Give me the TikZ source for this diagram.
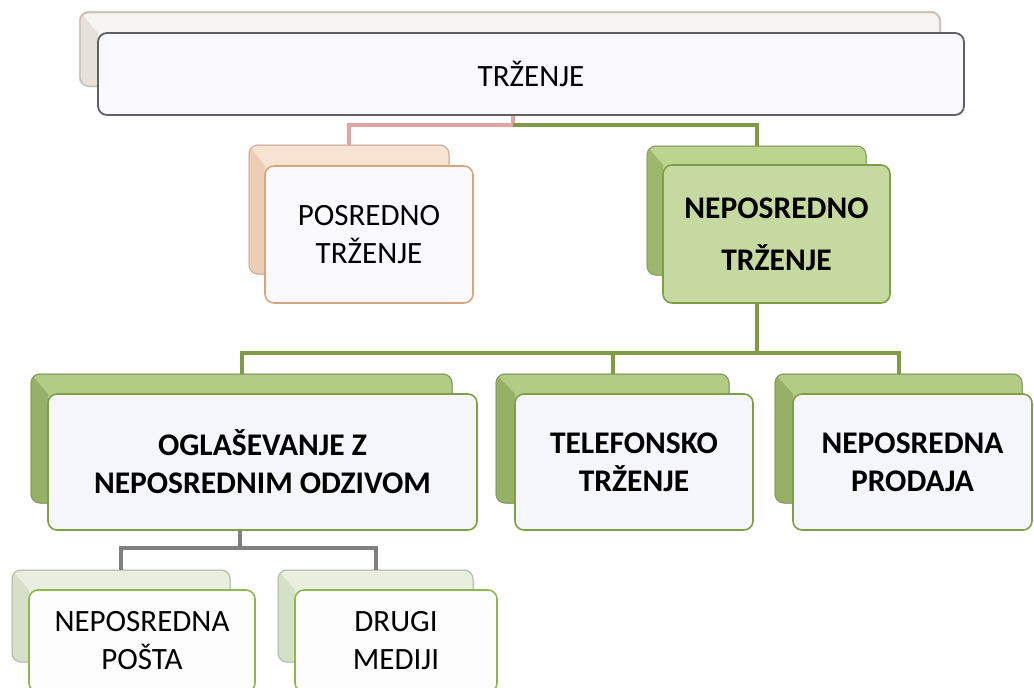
\documentclass[tikz,border=0pt]{standalone}
\usepackage{fontspec}
\setmainfont{Carlito}
\definecolor{trzBackFill}{HTML}{F7F5F2}
\definecolor{trzBackDark}{HTML}{E8E1DA}
\definecolor{trzBackLine}{HTML}{DDD3C9}
\definecolor{trzFrontFill}{HTML}{F8F8FD}
\definecolor{trzFrontLine}{HTML}{5F5F66}
\definecolor{posBackFill}{HTML}{F8E2D2}
\definecolor{posBackDark}{HTML}{EDCDB6}
\definecolor{posBackLine}{HTML}{EBCDB6}
\definecolor{posFrontFill}{HTML}{FAFAFE}
\definecolor{posFrontLine}{HTML}{D8A57A}
\definecolor{redConn}{HTML}{E4A4A2}
\definecolor{greenConn}{HTML}{7F9C45}
\definecolor{grayConn}{HTML}{7F7F80}
\definecolor{nepBackFill}{HTML}{BCD58E}
\definecolor{nepBackDark}{HTML}{9DB86C}
\definecolor{nepBackLine}{HTML}{A9C47A}
\definecolor{nepFrontFill}{HTML}{C5D9A0}
\definecolor{nepFrontLine}{HTML}{7E9D46}
\definecolor{lvBackFill}{HTML}{B2CC86}
\definecolor{lvBackDark}{HTML}{97B068}
\definecolor{lvBackLine}{HTML}{9DB86C}
\definecolor{lvFrontFill}{HTML}{F5F6FC}
\definecolor{lvFrontLine}{HTML}{7F9F44}
\definecolor{lwBackFill}{HTML}{E9EFDF}
\definecolor{lwBackDark}{HTML}{D6DFC8}
\definecolor{lwBackLine}{HTML}{D3DCC4}
\definecolor{lwFrontFill}{HTML}{FDFDFE}
\definecolor{lwFrontLine}{HTML}{8DB84B}
\tikzset{
  boxbase/.style={rounded corners=9pt, inner sep=0pt, outer sep=0pt, align=center},
  backbox/.style={boxbase, line width=1pt},
  frontbox/.style={boxbase, line width=1.6pt},
  plaintext/.style={font=\fontsize{31}{38}\selectfont},
  boldtext/.style={font=\fontsize{31.5}{38}\selectfont\bfseries},
  conn/.style={line width=4pt},
}
\newcommand\mybevel[3]{%
  \begin{scope}
    \clip[rounded corners=9pt] (#1.north west) rectangle (#1.south east);
    \fill[#3] (#1.north west) -- (#2.north west) -- (#2.north west |- #1.south) -- (#1.south west) -- cycle;
  \end{scope}
  \draw[backbox, draw=#3!80!black!90] (#1.north west) rectangle (#1.south east);
}
\begin{document}
\begin{tikzpicture}[x=1pt,y=-1pt]
\useasboundingbox (0,0) rectangle (1034,688);
\clip (0,0) rectangle (1034,688);
\fill[white] (0,0) rectangle (1034,688);

% back boxes
\node[backbox, fill=trzBackFill, draw=trzBackLine, line width=2.5pt, minimum width=860pt, minimum height=74pt] (trzb) at (510,49) {};
\node[backbox, fill=posBackFill, draw=posBackLine, minimum width=200pt, minimum height=129pt] (posb) at (349,209.5) {};
\node[backbox, fill=nepBackFill, draw=nepBackLine, minimum width=219pt, minimum height=129pt] (nepb) at (756.5,210.5) {};
\node[backbox, fill=lvBackFill, draw=lvBackLine, minimum width=421pt, minimum height=129pt] (oglb) at (241.5,438.5) {};
\node[backbox, fill=lvBackFill, draw=lvBackLine, minimum width=233pt, minimum height=129pt] (telb) at (612.5,438.5) {};
\node[backbox, fill=lvBackFill, draw=lvBackLine, minimum width=247pt, minimum height=129pt] (prob) at (898.5,438.5) {};
\node[backbox, fill=lwBackFill, draw=lwBackLine, minimum width=218pt, minimum height=92pt] (npb) at (121,616) {};
\node[backbox, fill=lwBackFill, draw=lwBackLine, minimum width=195pt, minimum height=92pt] (drb) at (375.5,616) {};

% junction coordinates
\coordinate (j0) at (513,125);
\coordinate (j1) at (756.5,353);
\coordinate (j2) at (240,548);

% front box frames (for bevel reference)
\path node[frontbox, minimum width=866pt, minimum height=82pt] (trz) at (531,74) {}
      node[frontbox, minimum width=208pt, minimum height=137pt] (pos) at (369,234.5) {}
      node[frontbox, minimum width=227pt, minimum height=138pt] (nep) at (776.5,234) {}
      node[frontbox, minimum width=429pt, minimum height=136pt] (ogl) at (262.5,462) {}
      node[frontbox, minimum width=238pt, minimum height=136pt] (tel) at (634,462) {}
      node[frontbox, minimum width=239pt, minimum height=136pt] (pro) at (912.5,462) {}
      node[frontbox, minimum width=226pt, minimum height=102pt] (np) at (142,641) {}
      node[frontbox, minimum width=202pt, minimum height=102pt] (dr) at (396,641) {};

% bevels on back boxes
\mybevel{trzb}{trz}{trzBackDark}
\mybevel{posb}{pos}{posBackDark}
\mybevel{nepb}{nep}{nepBackDark}
\mybevel{oglb}{ogl}{lvBackDark}
\mybevel{telb}{tel}{lvBackDark}
\mybevel{prob}{pro}{lvBackDark}
\mybevel{npb}{np}{lwBackDark}
\mybevel{drb}{dr}{lwBackDark}

% connectors
\draw[conn, redConn] (trz.south -| j0) -- (j0) -| (posb.north);
\draw[conn, greenConn] (j0) -| (nepb.north);
\draw[conn, greenConn] (nepb.south -| j1) -- (j1) -| (oglb.north);
\draw[conn, greenConn] (j1) -| (telb.north);
\draw[conn, greenConn] (j1) -| (prob.north);
\draw[conn, grayConn] (oglb.south -| j2) -- (j2) -| (npb.north);
\draw[conn, grayConn] (j2) -| (drb.north);

% front boxes with text
\node[frontbox, fill=trzFrontFill, draw=trzFrontLine, line width=1.8pt, minimum width=866pt, minimum height=82pt, plaintext] (trzt) at (trz) {TRŽENJE};
\node[frontbox, fill=posFrontFill, draw=posFrontLine, minimum width=208pt, minimum height=137pt, plaintext] (post) at (pos) {POSREDNO\\TRŽENJE};
\node[frontbox, fill=nepFrontFill, draw=nepFrontLine, minimum width=227pt, minimum height=138pt, font=\fontsize{31.5}{52}\selectfont\bfseries] (nept) at (nep) {NEPOSREDNO\\TRŽENJE};
\node[frontbox, fill=lvFrontFill, draw=lvFrontLine, minimum width=429pt, minimum height=136pt, boldtext] (oglt) at (ogl) {OGLAŠEVANJE Z\\NEPOSREDNIM ODZIVOM};
\node[frontbox, fill=lvFrontFill, draw=lvFrontLine, minimum width=238pt, minimum height=136pt, boldtext] (telt) at (tel) {TELEFONSKO\\TRŽENJE};
\node[frontbox, fill=lvFrontFill, draw=lvFrontLine, minimum width=239pt, minimum height=136pt, boldtext] (prot) at (pro) {NEPOSREDNA\\PRODAJA};
\node[frontbox, fill=lwFrontFill, draw=lwFrontLine, minimum width=226pt, minimum height=102pt, plaintext] (npt) at (np) {NEPOSREDNA\\POŠTA};
\node[frontbox, fill=lwFrontFill, draw=lwFrontLine, minimum width=202pt, minimum height=102pt, plaintext] (drt) at (dr) {DRUGI\\MEDIJI};
\end{tikzpicture}
\end{document}
